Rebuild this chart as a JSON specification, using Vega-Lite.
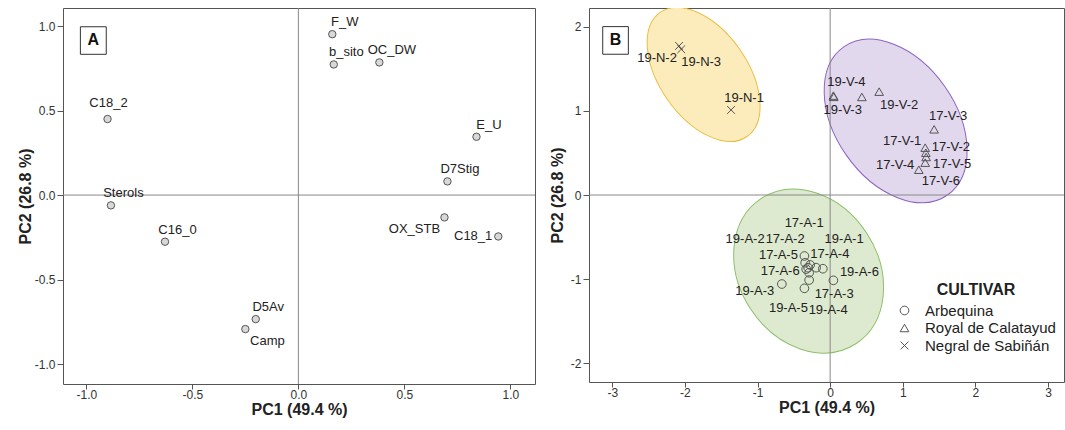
{
  "$schema": "https://vega.github.io/schema/vega-lite/v6.json",
  "background": "white",
  "padding": {"left": 16, "top": 7, "right": 0, "bottom": 0},
  "spacing": 12,
  "config": {
    "font": "Liberation Sans",
    "view": {"stroke": "#555", "strokeWidth": 1},
    "axis": {"domain": false, "grid": false, "tickColor": "#555", "tickSize": 6, "labelFontSize": 12, "labelColor": "#333", "labelPadding": 2, "titleFontSize": 16, "titleFontWeight": "bold", "titleColor": "#222", "titlePadding": 2, "labelExpr": "replace(datum.label, '\u2212', '-')"},
    "axisX": {"labelPadding": 0, "titlePadding": 1, "tickSize": 5},
    "text": {"font": "Liberation Sans"}
  },
  "datasets": {
    "loadings": [
      {"var": "F_W", "PC1": 0.16, "PC2": 0.952},
      {"var": "b_sito", "PC1": 0.167, "PC2": 0.773},
      {"var": "OC_DW", "PC1": 0.382, "PC2": 0.785},
      {"var": "C18_2", "PC1": -0.9, "PC2": 0.45},
      {"var": "E_U", "PC1": 0.84, "PC2": 0.345},
      {"var": "D7Stig", "PC1": 0.703, "PC2": 0.081},
      {"var": "Sterols", "PC1": -0.884, "PC2": -0.061},
      {"var": "OX_STB", "PC1": 0.689, "PC2": -0.132},
      {"var": "C18_1", "PC1": 0.943, "PC2": -0.245},
      {"var": "C16_0", "PC1": -0.629, "PC2": -0.276},
      {"var": "D5Av", "PC1": -0.201, "PC2": -0.734},
      {"var": "Camp", "PC1": -0.25, "PC2": -0.793}
    ],
    "scores": [
      {"id": "19-N-1", "cultivar": "Negral de Sabiñán", "PC1": -1.364, "PC2": 1.01},
      {"id": "19-N-2", "cultivar": "Negral de Sabiñán", "PC1": -2.08, "PC2": 1.77},
      {"id": "19-N-3", "cultivar": "Negral de Sabiñán", "PC1": -2.05, "PC2": 1.73},
      {"id": "19-V-1", "cultivar": "Royal de Calatayud", "PC1": 0.437, "PC2": 1.164},
      {"id": "19-V-2", "cultivar": "Royal de Calatayud", "PC1": 0.675, "PC2": 1.227},
      {"id": "19-V-3", "cultivar": "Royal de Calatayud", "PC1": 0.05, "PC2": 1.165},
      {"id": "19-V-4", "cultivar": "Royal de Calatayud", "PC1": 0.045, "PC2": 1.18},
      {"id": "17-V-1", "cultivar": "Royal de Calatayud", "PC1": 1.309, "PC2": 0.562},
      {"id": "17-V-2", "cultivar": "Royal de Calatayud", "PC1": 1.318, "PC2": 0.502},
      {"id": "17-V-3", "cultivar": "Royal de Calatayud", "PC1": 1.432, "PC2": 0.78},
      {"id": "17-V-4", "cultivar": "Royal de Calatayud", "PC1": 1.309, "PC2": 0.384},
      {"id": "17-V-5", "cultivar": "Royal de Calatayud", "PC1": 1.322, "PC2": 0.451},
      {"id": "17-V-6", "cultivar": "Royal de Calatayud", "PC1": 1.221, "PC2": 0.3},
      {"id": "17-A-5", "cultivar": "Arbequina", "PC1": -0.354, "PC2": -0.724},
      {"id": "17-A-1", "cultivar": "Arbequina", "PC1": -0.344, "PC2": -0.804},
      {"id": "17-A-2", "cultivar": "Arbequina", "PC1": -0.275, "PC2": -0.83},
      {"id": "19-A-2", "cultivar": "Arbequina", "PC1": -0.303, "PC2": -0.863},
      {"id": "19-A-1", "cultivar": "Arbequina", "PC1": -0.193, "PC2": -0.863},
      {"id": "17-A-4", "cultivar": "Arbequina", "PC1": -0.1, "PC2": -0.875},
      {"id": "17-A-6", "cultivar": "Arbequina", "PC1": -0.33, "PC2": -0.88},
      {"id": "19-A-6", "cultivar": "Arbequina", "PC1": 0.045, "PC2": -1.013},
      {"id": "19-A-3", "cultivar": "Arbequina", "PC1": -0.665, "PC2": -1.057},
      {"id": "17-A-3", "cultivar": "Arbequina", "PC1": -0.289, "PC2": -0.923},
      {"id": "19-A-5", "cultivar": "Arbequina", "PC1": -0.354, "PC2": -1.108},
      {"id": "19-A-4", "cultivar": "Arbequina", "PC1": -0.289, "PC2": -1.01}
    ],
    "ellipses": [
      {"cultivar": "Negral de Sabiñán", "PC1": -1.742, "PC2": 1.431},
      {"cultivar": "Royal de Calatayud", "PC1": 0.902, "PC2": 0.879},
      {"cultivar": "Arbequina", "PC1": -0.296, "PC2": -0.903}
    ]
  },
  "hconcat": [
    {
      "width": 472,
      "height": 376,
      "layer": [
        {
          "data": {"values": [{}]},
          "mark": {"type": "rule", "color": "#888", "strokeWidth": 1},
          "encoding": {"x": {"datum": 0, "type": "quantitative", "scale": {"domain": [-1.11, 1.116], "nice": false, "zero": false}, "axis": {"title": "PC1 (49.4 %)", "values": [-1, -0.5, 0, 0.5, 1], "format": ".1f"}}}
        },
        {
          "data": {"values": [{}]},
          "mark": {"type": "rule", "color": "#888", "strokeWidth": 1},
          "encoding": {"y": {"datum": 0, "type": "quantitative", "scale": {"domain": [-1.118, 1.107], "nice": false, "zero": false}, "axis": {"title": "PC2 (26.8 %)", "values": [-1, -0.5, 0, 0.5, 1], "format": ".1f", "titlePadding": 1}}}
        },
        {
          "data": {"values": [{}]},
          "mark": {"type": "rect", "fill": "white", "stroke": "#333", "strokeWidth": 1},
          "encoding": {
            "x": {"datum": -1.028, "type": "quantitative", "scale": {"domain": [-1.11, 1.116], "nice": false, "zero": false}, "axis": {"title": "PC1 (49.4 %)", "values": [-1, -0.5, 0, 0.5, 1], "format": ".1f"}},
            "x2": {"datum": -0.906},
            "y": {"datum": 0.996, "type": "quantitative", "scale": {"domain": [-1.118, 1.107], "nice": false, "zero": false}, "axis": {"title": "PC2 (26.8 %)", "values": [-1, -0.5, 0, 0.5, 1], "format": ".1f", "titlePadding": 1}},
            "y2": {"datum": 0.833}
          }
        },
        {
          "data": {"values": [{}]},
          "mark": {"type": "text", "text": "A", "fontSize": 16, "fontWeight": "bold", "color": "#111"},
          "encoding": {
            "x": {"datum": -0.967, "type": "quantitative", "scale": {"domain": [-1.11, 1.116], "nice": false, "zero": false}, "axis": {"title": "PC1 (49.4 %)", "values": [-1, -0.5, 0, 0.5, 1], "format": ".1f"}},
            "y": {"datum": 0.915, "type": "quantitative", "scale": {"domain": [-1.118, 1.107], "nice": false, "zero": false}, "axis": {"title": "PC2 (26.8 %)", "values": [-1, -0.5, 0, 0.5, 1], "format": ".1f", "titlePadding": 1}}
          }
        },
        {
          "data": {"name": "loadings"},
          "encoding": {
            "x": {"field": "PC1", "type": "quantitative", "scale": {"domain": [-1.11, 1.116], "nice": false, "zero": false}, "axis": {"title": "PC1 (49.4 %)", "values": [-1, -0.5, 0, 0.5, 1], "format": ".1f"}},
            "y": {"field": "PC2", "type": "quantitative", "scale": {"domain": [-1.118, 1.107], "nice": false, "zero": false}, "axis": {"title": "PC2 (26.8 %)", "values": [-1, -0.5, 0, 0.5, 1], "format": ".1f", "titlePadding": 1}}
          },
          "layer": [
            {"mark": {"type": "point", "shape": "circle", "filled": true, "fill": "#d8d8d8", "stroke": "#555", "strokeWidth": 1, "size": 55, "opacity": 1}},
            {"transform": [{"filter": "indexof(['F_W','b_sito','OC_DW','E_U','D7Stig','Sterols','C16_0','D5Av'], datum.var) >= 0"}], "mark": {"type": "text", "dx": 12.5, "dy": -12, "fontSize": 13, "color": "#222"}, "encoding": {"text": {"field": "var"}}},
            {"transform": [{"filter": "datum.var === 'C18_2'"}], "mark": {"type": "text", "dx": 1, "dy": -16, "fontSize": 13, "color": "#222"}, "encoding": {"text": {"field": "var"}}},
            {"transform": [{"filter": "datum.var === 'Camp'"}], "mark": {"type": "text", "dx": 22, "dy": 12, "fontSize": 13, "color": "#222"}, "encoding": {"text": {"field": "var"}}},
            {"transform": [{"filter": "datum.var === 'OX_STB'"}], "mark": {"type": "text", "dx": -30, "dy": 12, "fontSize": 13, "color": "#222"}, "encoding": {"text": {"field": "var"}}},
            {"transform": [{"filter": "datum.var === 'C18_1'"}], "mark": {"type": "text", "align": "right", "dx": -6, "dy": 0, "fontSize": 13, "color": "#222"}, "encoding": {"text": {"field": "var"}}}
          ]
        }
      ]
    },
    {
      "width": 475,
      "height": 374,
      "layer": [
        {
          "data": {"name": "ellipses"},
          "transform": [{"filter": "datum.cultivar === 'Negral de Sabiñán'"}],
          "mark": {"type": "point", "clip": true, "shape": "M -1 0 A 1 0.581 0 1 0 1 0 A 1 0.581 0 1 0 -1 0 Z", "size": 22922, "angle": 55, "filled": true, "fill": "#fcecbc", "stroke": "#e9be40", "strokeWidth": 1, "opacity": 1},
          "encoding": {
            "x": {"field": "PC1", "type": "quantitative", "scale": {"domain": [-3.32, 3.22], "nice": false, "zero": false}, "axis": {"title": "PC1 (49.4 %)", "values": [-3, -2, -1, 0, 1, 2, 3], "format": "d"}},
            "y": {"field": "PC2", "type": "quantitative", "scale": {"domain": [-2.22, 2.22], "nice": false, "zero": false}, "axis": {"title": "PC2 (26.8 %)", "values": [-2, -1, 0, 1, 2], "format": "d", "titlePadding": 5}}
          }
        },
        {
          "data": {"name": "ellipses"},
          "transform": [{"filter": "datum.cultivar === 'Royal de Calatayud'"}],
          "mark": {"type": "point", "clip": true, "shape": "M -1 0 A 1 0.664 0 1 0 1 0 A 1 0.664 0 1 0 -1 0 Z", "size": 32689, "angle": 55, "filled": true, "fill": "#e2d8ee", "stroke": "#8e63bf", "strokeWidth": 1, "opacity": 1},
          "encoding": {
            "x": {"field": "PC1", "type": "quantitative", "scale": {"domain": [-3.32, 3.22], "nice": false, "zero": false}, "axis": {"title": "PC1 (49.4 %)", "values": [-3, -2, -1, 0, 1, 2, 3], "format": "d"}},
            "y": {"field": "PC2", "type": "quantitative", "scale": {"domain": [-2.22, 2.22], "nice": false, "zero": false}, "axis": {"title": "PC2 (26.8 %)", "values": [-2, -1, 0, 1, 2], "format": "d", "titlePadding": 5}}
          }
        },
        {
          "data": {"name": "ellipses"},
          "transform": [{"filter": "datum.cultivar === 'Arbequina'"}],
          "mark": {"type": "point", "clip": true, "shape": "M -1 0 A 1 0.80 0 1 0 1 0 A 1 0.80 0 1 0 -1 0 Z", "size": 30068, "angle": 57, "filled": true, "fill": "#deeacf", "stroke": "#8dbf6a", "strokeWidth": 1, "opacity": 1},
          "encoding": {
            "x": {"field": "PC1", "type": "quantitative", "scale": {"domain": [-3.32, 3.22], "nice": false, "zero": false}, "axis": {"title": "PC1 (49.4 %)", "values": [-3, -2, -1, 0, 1, 2, 3], "format": "d"}},
            "y": {"field": "PC2", "type": "quantitative", "scale": {"domain": [-2.22, 2.22], "nice": false, "zero": false}, "axis": {"title": "PC2 (26.8 %)", "values": [-2, -1, 0, 1, 2], "format": "d", "titlePadding": 5}}
          }
        },
        {
          "data": {"values": [{}]},
          "mark": {"type": "rule", "color": "#888", "strokeWidth": 1},
          "encoding": {"x": {"datum": 0, "type": "quantitative", "scale": {"domain": [-3.32, 3.22], "nice": false, "zero": false}, "axis": {"title": "PC1 (49.4 %)", "values": [-3, -2, -1, 0, 1, 2, 3], "format": "d"}}}
        },
        {
          "data": {"values": [{}]},
          "mark": {"type": "rule", "color": "#888", "strokeWidth": 1},
          "encoding": {"y": {"datum": 0, "type": "quantitative", "scale": {"domain": [-2.22, 2.22], "nice": false, "zero": false}, "axis": {"title": "PC2 (26.8 %)", "values": [-2, -1, 0, 1, 2], "format": "d", "titlePadding": 5}}}
        },
        {
          "data": {"values": [{}]},
          "mark": {"type": "rect", "fill": "white", "stroke": "#333", "strokeWidth": 1},
          "encoding": {
            "x": {"datum": -3.131, "type": "quantitative", "scale": {"domain": [-3.32, 3.22], "nice": false, "zero": false}, "axis": {"title": "PC1 (49.4 %)", "values": [-3, -2, -1, 0, 1, 2, 3], "format": "d"}},
            "x2": {"datum": -2.778},
            "y": {"datum": 1.999, "type": "quantitative", "scale": {"domain": [-2.22, 2.22], "nice": false, "zero": false}, "axis": {"title": "PC2 (26.8 %)", "values": [-2, -1, 0, 1, 2], "format": "d", "titlePadding": 5}},
            "y2": {"datum": 1.671}
          }
        },
        {
          "data": {"values": [{}]},
          "mark": {"type": "text", "text": "B", "fontSize": 16, "fontWeight": "bold", "color": "#111"},
          "encoding": {
            "x": {"datum": -2.955, "type": "quantitative", "scale": {"domain": [-3.32, 3.22], "nice": false, "zero": false}, "axis": {"title": "PC1 (49.4 %)", "values": [-3, -2, -1, 0, 1, 2, 3], "format": "d"}},
            "y": {"datum": 1.835, "type": "quantitative", "scale": {"domain": [-2.22, 2.22], "nice": false, "zero": false}, "axis": {"title": "PC2 (26.8 %)", "values": [-2, -1, 0, 1, 2], "format": "d", "titlePadding": 5}}
          }
        },
        {
          "data": {"name": "scores"},
          "encoding": {
            "x": {"field": "PC1", "type": "quantitative", "scale": {"domain": [-3.32, 3.22], "nice": false, "zero": false}, "axis": {"title": "PC1 (49.4 %)", "values": [-3, -2, -1, 0, 1, 2, 3], "format": "d"}},
            "y": {"field": "PC2", "type": "quantitative", "scale": {"domain": [-2.22, 2.22], "nice": false, "zero": false}, "axis": {"title": "PC2 (26.8 %)", "values": [-2, -1, 0, 1, 2], "format": "d", "titlePadding": 5}}
          },
          "layer": [
            {
              "mark": {"type": "point", "filled": false, "color": "#555", "size": 75, "strokeWidth": 1, "opacity": 1},
              "encoding": {
                "shape": {
                  "field": "cultivar", "type": "nominal",
                  "scale": {"domain": ["Arbequina", "Royal de Calatayud", "Negral de Sabiñán"], "range": ["circle", "triangle-up", "M -0.9 -0.9 L 0.9 0.9 M -0.9 0.9 L 0.9 -0.9"]},
                  "legend": {"orient": "none", "legendX": 834, "legendY": 274, "title": "CULTIVAR", "titleFontSize": 16, "titleFontWeight": "bold", "titleColor": "#222", "titleAnchor": "middle", "titlePadding": 5, "labelFontSize": 15, "labelColor": "#222", "symbolSize": 75, "symbolStrokeColor": "#555", "symbolStrokeWidth": 1, "symbolFillColor": "transparent", "rowPadding": 1.5, "labelOffset": 13}
                }
              }
            },
            {"transform": [{"filter": "datum.id === '19-N-2'"}], "mark": {"type": "text", "dx": -22, "dy": 12, "fontSize": 13, "color": "#222"}, "encoding": {"text": {"field": "id"}}},
            {"transform": [{"filter": "datum.id === '19-N-3'"}], "mark": {"type": "text", "dx": 20, "dy": 13, "fontSize": 13, "color": "#222"}, "encoding": {"text": {"field": "id"}}},
            {"transform": [{"filter": "datum.id === '19-N-1'"}], "mark": {"type": "text", "dx": 13, "dy": -12, "fontSize": 13, "color": "#222"}, "encoding": {"text": {"field": "id"}}},
            {"transform": [{"filter": "datum.id === '19-V-4'"}], "mark": {"type": "text", "dx": 13, "dy": -13.5, "fontSize": 13, "color": "#222"}, "encoding": {"text": {"field": "id"}}},
            {"transform": [{"filter": "datum.id === '19-V-3'"}], "mark": {"type": "text", "dx": 9, "dy": 13, "fontSize": 13, "color": "#222"}, "encoding": {"text": {"field": "id"}}},
            {"transform": [{"filter": "datum.id === '19-V-2'"}], "mark": {"type": "text", "dx": 20, "dy": 13, "fontSize": 13, "color": "#222"}, "encoding": {"text": {"field": "id"}}},
            {"transform": [{"filter": "datum.id === '17-V-3'"}], "mark": {"type": "text", "dx": 14, "dy": -13, "fontSize": 13, "color": "#222"}, "encoding": {"text": {"field": "id"}}},
            {"transform": [{"filter": "datum.id === '17-V-1'"}], "mark": {"type": "text", "dx": -23, "dy": -7, "fontSize": 13, "color": "#222"}, "encoding": {"text": {"field": "id"}}},
            {"transform": [{"filter": "datum.id === '17-V-2'"}], "mark": {"type": "text", "dx": 25, "dy": -6, "fontSize": 13, "color": "#222"}, "encoding": {"text": {"field": "id"}}},
            {"transform": [{"filter": "datum.id === '17-V-5'"}], "mark": {"type": "text", "dx": 26, "dy": 7, "fontSize": 13, "color": "#222"}, "encoding": {"text": {"field": "id"}}},
            {"transform": [{"filter": "datum.id === '17-V-4'"}], "mark": {"type": "text", "dx": -30, "dy": 2, "fontSize": 13, "color": "#222"}, "encoding": {"text": {"field": "id"}}},
            {"transform": [{"filter": "datum.id === '17-V-6'"}], "mark": {"type": "text", "dx": 22, "dy": 11, "fontSize": 13, "color": "#222"}, "encoding": {"text": {"field": "id"}}},
            {"transform": [{"filter": "datum.id === '17-A-5'"}], "mark": {"type": "text", "dx": -26, "dy": -1, "fontSize": 13, "color": "#222"}, "encoding": {"text": {"field": "id"}}},
            {"transform": [{"filter": "datum.id === '17-A-1'"}], "mark": {"type": "text", "dx": -1, "dy": -40, "fontSize": 13, "color": "#222"}, "encoding": {"text": {"field": "id"}}},
            {"transform": [{"filter": "datum.id === '17-A-2'"}], "mark": {"type": "text", "dx": -25, "dy": -26, "fontSize": 13, "color": "#222"}, "encoding": {"text": {"field": "id"}}},
            {"transform": [{"filter": "datum.id === '19-A-2'"}], "mark": {"type": "text", "dx": -63, "dy": -29, "fontSize": 13, "color": "#222"}, "encoding": {"text": {"field": "id"}}},
            {"transform": [{"filter": "datum.id === '19-A-1'"}], "mark": {"type": "text", "dx": 28, "dy": -29, "fontSize": 13, "color": "#222"}, "encoding": {"text": {"field": "id"}}},
            {"transform": [{"filter": "datum.id === '17-A-4'"}], "mark": {"type": "text", "dx": 7, "dy": -15, "fontSize": 13, "color": "#222"}, "encoding": {"text": {"field": "id"}}},
            {"transform": [{"filter": "datum.id === '17-A-6'"}], "mark": {"type": "text", "dx": -26, "dy": 2, "fontSize": 13, "color": "#222"}, "encoding": {"text": {"field": "id"}}},
            {"transform": [{"filter": "datum.id === '19-A-6'"}], "mark": {"type": "text", "dx": 26, "dy": -8, "fontSize": 13, "color": "#222"}, "encoding": {"text": {"field": "id"}}},
            {"transform": [{"filter": "datum.id === '19-A-3'"}], "mark": {"type": "text", "dx": -27, "dy": 7, "fontSize": 13, "color": "#222"}, "encoding": {"text": {"field": "id"}}},
            {"transform": [{"filter": "datum.id === '17-A-3'"}], "mark": {"type": "text", "dx": 25, "dy": 21, "fontSize": 13, "color": "#222"}, "encoding": {"text": {"field": "id"}}},
            {"transform": [{"filter": "datum.id === '19-A-5'"}], "mark": {"type": "text", "dx": -16, "dy": 20, "fontSize": 13, "color": "#222"}, "encoding": {"text": {"field": "id"}}},
            {"transform": [{"filter": "datum.id === '19-A-4'"}], "mark": {"type": "text", "dx": 19, "dy": 30, "fontSize": 13, "color": "#222"}, "encoding": {"text": {"field": "id"}}}
          ]
        }
      ]
    }
  ]
}
